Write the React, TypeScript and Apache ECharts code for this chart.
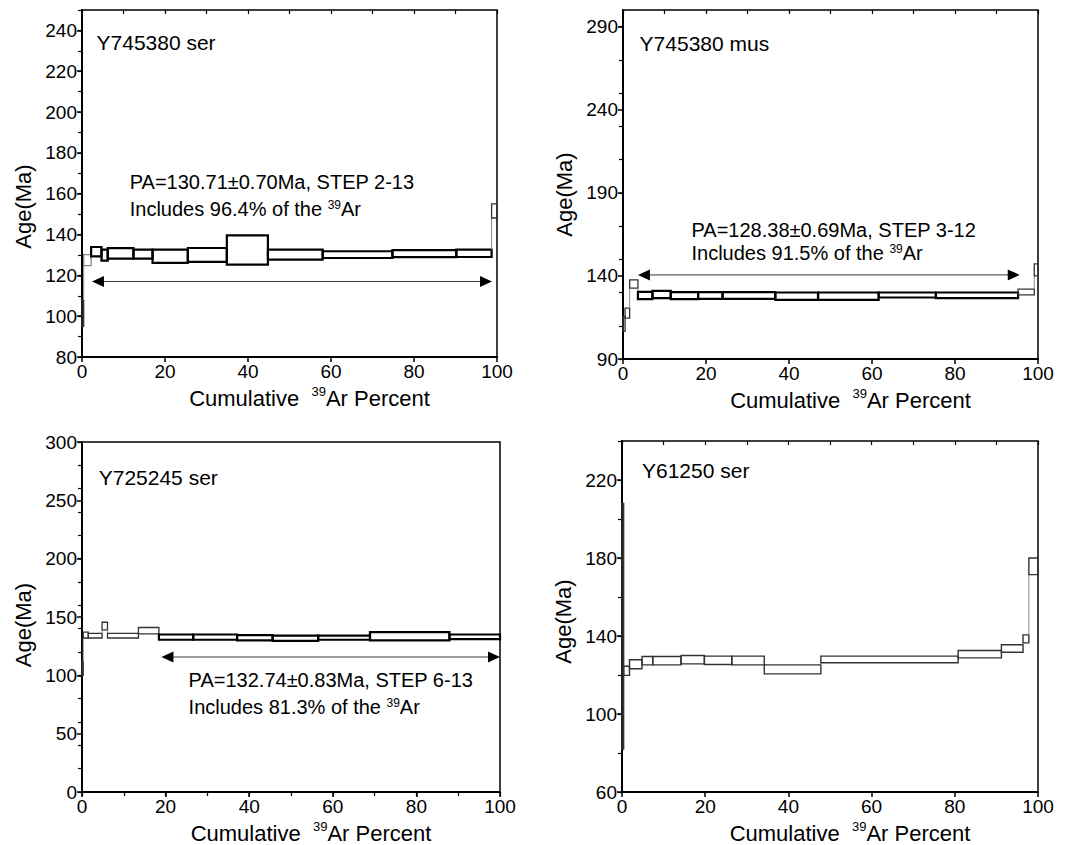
import React, { useEffect, useRef } from 'react';
import * as echarts from 'echarts';

const FONT = '"Liberation Sans", Arial, Helvetica, sans-serif';

// ---------- data ----------
const sampleNames = ['Y745380 ser', 'Y745380 mus', 'Y725245 ser', 'Y61250 ser'];
const plateauAges = ['PA=130.71±0.70Ma, STEP 2-13', 'PA=128.38±0.69Ma, STEP 3-12', 'PA=132.74±0.83Ma, STEP 6-13', ''];
const includesPct = ['96.4%', '91.5%', '81.3%', ''];

// cumulative 39Ar boundaries (%), step age low / high (Ma)
const cum1 = [0, 0.4, 2.2, 4.7, 6.2, 12.4, 17.0, 25.5, 34.9, 44.8, 58.0, 74.8, 90.2, 98.7, 100];
const lo1 = [95, 124.8, 129.3, 127.2, 128.2, 128.2, 126.1, 126.6, 125.3, 127.7, 128.5, 128.9, 129.0, 148.1];
const hi1 = [108, 130.2, 133.9, 132.6, 133.3, 132.6, 132.6, 133.4, 139.6, 132.6, 131.8, 132.4, 132.6, 155.0];

const cum2 = [0, 0.5, 1.6, 3.6, 7.1, 11.5, 18.1, 24.0, 36.7, 47.0, 61.6, 75.4, 95.2, 99.1, 100];
const lo2 = [106.6, 114.6, 132.6, 126.0, 126.6, 126.0, 126.2, 126.2, 125.6, 125.6, 127.0, 126.6, 128.6, 140.0];
const hi2 = [115.6, 120.6, 137.6, 130.4, 131.0, 130.2, 130.2, 130.2, 130.0, 130.0, 130.0, 130.0, 132.0, 147.2];

const cum3 = [0, 0.3, 1.5, 4.8, 6.1, 13.5, 18.4, 26.6, 37.1, 45.6, 56.5, 68.9, 87.9, 100];
const lo3 = [100, 132, 132, 139, 132, 135.5, 130.5, 130.5, 130, 129.5, 130.5, 130, 131];
const hi3 = [112, 137, 136, 145.5, 136, 141, 135, 135, 134.5, 134, 134, 137, 135];

const cum4 = [0, 0.4, 1.8, 4.8, 7.4, 14.2, 19.8, 26.4, 34.2, 47.8, 80.8, 91.2, 96.4, 97.8, 100];
const lo4 = [82, 119.8, 123.2, 125.2, 125.2, 125.7, 125.4, 125.2, 120.6, 126.3, 128.8, 131.7, 136.5, 171.5];
const hi4 = [208, 124.5, 127.8, 129.5, 129.5, 130.0, 129.7, 129.7, 125.2, 129.7, 132.6, 135.5, 140.6, 180.0];

// plateau step index ranges (0-based, inclusive); -1 = none
const plateauFrom = [2, 3, 6, -1];
const plateauTo = [12, 11, 12, -1];

// plateau arrows: [from %, to %, age]
const arrowFrom = [2.4, 3.6, 19.0];
const arrowTo = [98.8, 95.6, 100];
const arrowAge = [117, 140.6, 115.7];

// axes
const yMin = [80, 90, 0, 60];
const yMax = [250, 300, 300, 240];
const yMajor = [
  [80, 100, 120, 140, 160, 180, 200, 220, 240],
  [90, 140, 190, 240, 290],
  [0, 50, 100, 150, 200, 250, 300],
  [60, 100, 140, 180, 220],
];
const yMinorStep = [10, 20, 20, 20];
const xMajor = [0, 20, 40, 60, 80, 100];
const xMinorStep = 10;

// ---------- layout ----------
const grids = [
  { left: 82, top: 10, width: 415, height: 347 },
  { left: 623, top: 10, width: 415, height: 349 },
  { left: 82, top: 442, width: 418, height: 350 },
  { left: 622, top: 441, width: 416, height: 351 },
];
const yNameShift = [23, 10, 8, 5];
const samplePos = [[3.5, 234], [4, 279.6], [4, 270], [4.8, 224.8]];
const paPos = [[11.5, 165.6, 152.5], [16.5, 167.6, 153.6], [25.5, 95.7, 72.9]];

const TICK_FS = 19;
const SAMPLE_FS = 21;
const NOTE_FS = 20;
const TITLE_FS = 22;

const range = (a: number, b: number, s: number) => {
  const r: number[] = [];
  for (let v = a; v <= b + 1e-9; v += s) r.push(v);
  return r;
};

const richFor = (size: number) => ({
  a: { fontSize: size, fontFamily: FONT, fill: '#000', lineHeight: size, verticalAlign: 'bottom' },
  s: { fontSize: Math.round(size * 0.6), fontFamily: FONT, fill: '#000', lineHeight: Math.round(size * 0.6), verticalAlign: 'top' },
});
const richForLabel = (size: number) => ({
  a: { fontSize: size, fontFamily: FONT, color: '#000', lineHeight: size + 2, verticalAlign: 'bottom' },
  s: { fontSize: Math.round(size * 0.6), fontFamily: FONT, color: '#000', lineHeight: Math.round(size * 0.6), verticalAlign: 'top' },
});

const App: React.FC = () => {
  const ref = useRef<HTMLDivElement>(null);

  useEffect(() => {
    if (!ref.current) return;
    const chart = echarts.init(ref.current, null, { renderer: 'svg' });

    const cums = [cum1, cum2, cum3, cum4];
    const los = [lo1, lo2, lo3, lo4];
    const his = [hi1, hi2, hi3, hi4];

    const xAxis: any[] = [];
    const yAxis: any[] = [];
    const series: any[] = [];

    grids.forEach((g, k) => {
      // main x
      xAxis.push({
        type: 'value', gridIndex: k, min: 0, max: 100,
        axisLine: { show: true, lineStyle: { color: '#000', width: 2 } },
        axisTick: { show: true, inside: false, length: 5, customValues: xMajor, lineStyle: { color: '#000', width: 1.5 } },
        axisLabel: { customValues: xMajor, fontSize: TICK_FS, fontFamily: FONT, color: '#000', margin: 5 },
        splitLine: { show: false },
        name: '{a|Cumulative  }{s|39}{a|Ar Percent}',
        nameLocation: 'middle', nameGap: 28,
        nameTextStyle: { rich: richForLabel(TITLE_FS), padding: [0, 0, 0, 40] },
      });
      // minor x
      xAxis.push({
        type: 'value', gridIndex: k, min: 0, max: 100,
        axisLine: { show: false },
        axisTick: { show: true, inside: true, length: 4, customValues: range(0, 100, xMinorStep), lineStyle: { color: '#000', width: 1.2 } },
        axisLabel: { show: false },
        splitLine: { show: false },
      });
      // main y
      yAxis.push({
        type: 'value', gridIndex: k, min: yMin[k], max: yMax[k],
        axisLine: { show: true, lineStyle: { color: '#000', width: 2 } },
        axisTick: { show: true, inside: false, length: 5, customValues: yMajor[k], lineStyle: { color: '#000', width: 1.5 } },
        axisLabel: { customValues: yMajor[k], fontSize: TICK_FS, fontFamily: FONT, color: '#000', margin: 5 },
        splitLine: { show: false },
        name: 'Age(Ma)', nameLocation: 'middle', nameGap: 48, nameRotate: 90,
        nameTextStyle: { fontSize: TITLE_FS, fontFamily: FONT, color: '#000', padding: [0, 2 * yNameShift[k], 0, 0] },
      });
      // minor y
      yAxis.push({
        type: 'value', gridIndex: k, min: yMin[k], max: yMax[k],
        axisLine: { show: false },
        axisTick: { show: true, inside: true, length: 4, customValues: range(yMin[k], yMax[k], yMinorStep[k]), lineStyle: { color: '#000', width: 1.2 } },
        axisLabel: { show: false },
        splitLine: { show: false },
      });

      const cum = cums[k], lo = los[k], hi = his[k];
      const rows = lo.map((l, i) => [cum[i], cum[i + 1], l, hi[i]]);
      const pF = plateauFrom[k], pT = plateauTo[k];

      series.push({
        type: 'custom', xAxisIndex: 2 * k, yAxisIndex: 2 * k,
        data: rows,
        encode: { x: [0, 1], y: [2, 3] },
        silent: true,
        renderItem: (params: any, api: any) => {
          const i = params.dataIndex;
          const a = api.coord([cum[i], hi[i]]);
          const b = api.coord([cum[i + 1], lo[i]]);
          const plateau = pF >= 0 && i >= pF && i <= pT;
          const children: any[] = [];
          if (i > 0) {
            let y1: number | null = null, y2: number | null = null;
            if (lo[i] > hi[i - 1]) { y1 = hi[i - 1]; y2 = lo[i]; }
            else if (hi[i] < lo[i - 1]) { y1 = hi[i]; y2 = lo[i - 1]; }
            if (y1 !== null && y2 !== null) {
              const p1 = api.coord([cum[i], y1]);
              const p2 = api.coord([cum[i], y2]);
              children.push({ type: 'line', shape: { x1: p1[0], y1: p1[1], x2: p2[0], y2: p2[1] }, style: { stroke: '#8a8a8a', lineWidth: 1 } });
            }
          }
          children.push({
            type: 'rect',
            shape: { x: a[0], y: a[1], width: b[0] - a[0], height: b[1] - a[1] },
            style: {
              fill: 'rgba(0,0,0,0)',
              stroke: plateau ? '#000' : (k === 0 && i === 1 ? '#888' : '#333'),
              lineWidth: plateau ? 2.2 : (k === 3 ? 1.4 : 1.3),
            },
          });
          return { type: 'group', children };
        },
        z: 5,
      });

      // arrow
      if (k < 3) {
        series.push({
          type: 'custom', xAxisIndex: 2 * k, yAxisIndex: 2 * k,
          data: [[arrowFrom[k], arrowAge[k], arrowTo[k]]],
          encode: { x: [0, 2], y: 1 },
          silent: true,
          renderItem: (params: any, api: any) => {
            const p0 = api.coord([arrowFrom[k], arrowAge[k]]);
            const p1 = api.coord([arrowTo[k], arrowAge[k]]);
            const L = 12, W = 5.5;
            return {
              type: 'group',
              children: [
                { type: 'line', shape: { x1: p0[0] + L - 1, y1: p0[1], x2: p1[0] - L + 1, y2: p1[1] }, style: { stroke: '#333', lineWidth: 1 } },
                { type: 'polygon', shape: { points: [[p0[0], p0[1]], [p0[0] + L, p0[1] - W], [p0[0] + L, p0[1] + W]] }, style: { fill: '#000' } },
                { type: 'polygon', shape: { points: [[p1[0], p1[1]], [p1[0] - L, p1[1] - W], [p1[0] - L, p1[1] + W]] }, style: { fill: '#000' } },
              ],
            };
          },
          z: 6,
        });
      }

      // texts
      const items: any[] = [{ x: samplePos[k][0], y: samplePos[k][1], text: '{a|' + sampleNames[k] + '}', size: SAMPLE_FS }];
      if (k < 3) {
        items.push({ x: paPos[k][0], y: paPos[k][1], text: '{a|' + plateauAges[k] + '}', size: NOTE_FS });
        items.push({ x: paPos[k][0], y: paPos[k][2], text: '{a|Includes ' + includesPct[k] + ' of the }{s|39}{a|Ar}', size: NOTE_FS });
      }
      series.push({
        type: 'custom', xAxisIndex: 2 * k, yAxisIndex: 2 * k,
        data: items.map((it) => [it.x, it.y]),
        encode: { x: 0, y: 1 },
        silent: true,
        renderItem: (params: any, api: any) => {
          const it = items[params.dataIndex];
          const p = api.coord([it.x, it.y]);
          return {
            type: 'text', x: p[0], y: p[1],
            style: { text: it.text, rich: richFor(it.size), fontFamily: FONT, fontSize: it.size, fill: '#000', align: 'left', verticalAlign: 'middle' },
          };
        },
        z: 7,
      });
    });

    chart.setOption({
      animation: false,
      backgroundColor: '#fff',
      grid: grids.map((g) => ({ ...g, show: true, borderColor: '#000', borderWidth: 1.5, backgroundColor: 'transparent', containLabel: false })),
      xAxis,
      yAxis,
      series,
    });

    return () => chart.dispose();
  }, []);

  return <div ref={ref} style={{ position: 'fixed', left: 0, top: 0, width: 1083, height: 845, background: '#fff' }} />;
};

export default App;
